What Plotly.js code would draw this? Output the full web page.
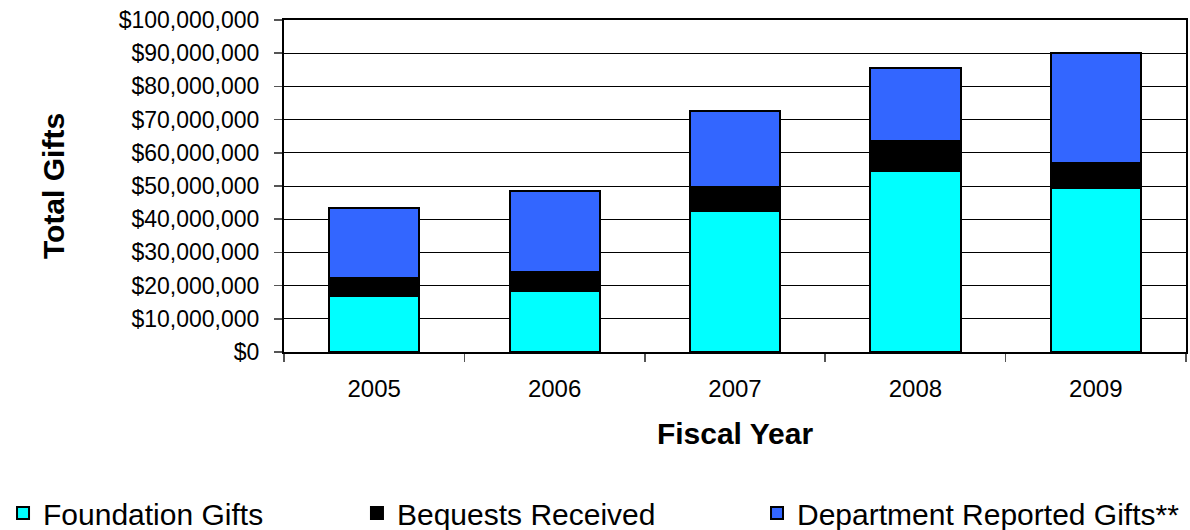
<!DOCTYPE html>
<html>
<head>
<meta charset="utf-8">
<script src="https://cdn.plot.ly/plotly-3.0.1.min.js"></script>
<style>html,body{margin:0;padding:0;background:#fff;}</style>
</head>
<body>
<div id="chart" style="width:1190px;height:530px;"></div>
<script>
const years = ['2005', '2006', '2007', '2008', '2009'];
const foundationGifts = [17000000, 18500000, 42400000, 54400000, 49400000];
const bequestsReceived = [5200000, 5600000, 7200000, 9200000, 7500000];
const departmentGifts = [21300000, 24300000, 23100000, 22000000, 33300000];
const seriesNames = ['Foundation Gifts', 'Bequests Received', 'Department Reported Gifts**'];

const FONT = 'Arial, "Liberation Sans", sans-serif';
const outline = {color: '#000000', width: 2};

const traces = [
  {type: 'bar', name: seriesNames[0], x: years, y: foundationGifts,
   marker: {color: '#00FFFF', line: outline}, legend: 'legend'},
  {type: 'bar', name: seriesNames[1], x: years, y: bequestsReceived,
   marker: {color: '#000000', line: outline}, legend: 'legend2'},
  {type: 'bar', name: seriesNames[2], x: years, y: departmentGifts,
   marker: {color: '#3366FF', line: outline}, legend: 'legend3'}
];

const legendBase = {
  orientation: 'h', yanchor: 'middle', xanchor: 'left', y: -0.485,
  font: {family: FONT, size: 30, color: '#000'},
  bgcolor: 'rgba(0,0,0,0)', borderwidth: 0, itemclick: false, itemdoubleclick: false
};

const layout = {
  width: 1190, height: 530,
  margin: {l: 284, r: 4, t: 20, b: 178, autoexpand: false},
  paper_bgcolor: '#ffffff', plot_bgcolor: '#ffffff',
  barmode: 'stack', bargap: 0.5,
  font: {family: FONT, color: '#000'},
  showlegend: true,
  legend: Object.assign({}, legendBase, {x: -0.3115}),
  legend2: Object.assign({}, legendBase, {x: 0.0809}),
  legend3: Object.assign({}, legendBase, {x: 0.5244}),
  xaxis: {
    type: 'category',
    tickson: 'boundaries',
    ticks: 'outside', ticklen: 8, tickcolor: '#555', tickwidth: 1.5,
    ticklabelstandoff: 14,
    showline: true, linecolor: '#000', linewidth: 2, mirror: true,
    showgrid: false,
    tickfont: {family: FONT, size: 24, color: '#000'},
    title: {text: 'Fiscal Year', font: {family: FONT, size: 30, color: '#000', weight: 'bold'}, standoff: 22}
  },
  yaxis: {
    range: [0, 100000000], dtick: 10000000, tick0: 0,
    tickformat: '$,.0f',
    ticks: 'outside', ticklen: 8, tickcolor: '#555', tickwidth: 1.5,
    ticklabelstandoff: 10,
    showline: true, linecolor: '#000', linewidth: 2, mirror: true,
    showgrid: true, gridcolor: '#000', gridwidth: 1,
    zeroline: false,
    tickfont: {family: FONT, size: 23, color: '#000'},
    title: {text: 'Total Gifts', font: {family: FONT, size: 30, color: '#000', weight: 'bold'}, standoff: 45}
  }
};

Plotly.newPlot('chart', traces, layout, {displayModeBar: false, staticPlot: true});
</script>
</body>
</html>
